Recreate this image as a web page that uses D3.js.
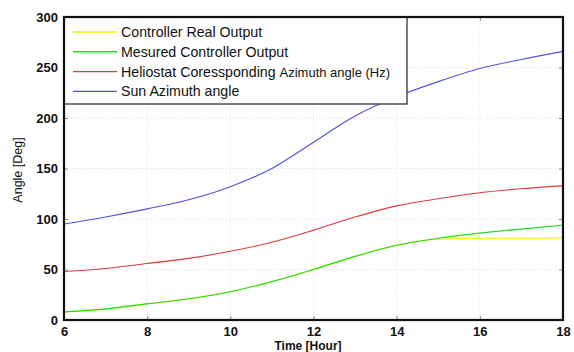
<!DOCTYPE html>
<html><head><meta charset="utf-8">
<script src="https://cdn.jsdelivr.net/npm/d3@7"></script>
<style>
html,body{margin:0;padding:0;background:#fff;}
svg{display:block;font-family:"Liberation Sans",Arial,sans-serif;}
</style></head>
<body><svg id="c" width="574" height="352"></svg>
<script>
const hours = [6,7,8,9,10,11,12,13,14,15,16,17,18];
const controllerReal = [8,11,16,21,28,38,50,63,74,80,81,81,81.5];
const measuredOutput = [8,11,16,21,28,38,50,63,74,81,86,90,94];
const heliostatAz = [48,51,56,61,68,77,89,102,113,120,126,130,133];
const sunAz = [95,102,110,119,132,150,176,202,221,236,249,258,266];
const xTicks = [6,8,10,12,14,16,18];
const yTicks = [0,50,100,150,200,250,300];
const seriesNames = [["Controller Real Output",""],["Mesured Controller Output",""],["Heliostat Coressponding ","Azimuth angle (Hz)"],["Sun Azimuth angle",""]];
const seriesColors = ["#f2f200","#22dd22","#e03a3a","#5252dc"];
const seriesData = [controllerReal, measuredOutput, heliostatAz, sunAz];

const svg = d3.select("#c");
const L=64,R=563,T=17,B=320;
const x = d3.scaleLinear().domain([6,18]).range([L,R]);
const y = d3.scaleLinear().domain([0,300]).range([B,T]);

// grid
const g = svg.append("g");
g.selectAll(".gx").data(xTicks.slice(1,-1)).enter().append("line")
 .attr("x1",d=>x(d)).attr("x2",d=>x(d)).attr("y1",T).attr("y2",B)
 .attr("stroke","#d8d8d8").attr("stroke-width",0.8).attr("stroke-dasharray","1,2");
g.selectAll(".gy").data(yTicks.slice(1,-1)).enter().append("line")
 .attr("y1",d=>y(d)).attr("y2",d=>y(d)).attr("x1",L).attr("x2",R)
 .attr("stroke","#d8d8d8").attr("stroke-width",0.8).attr("stroke-dasharray","1,2");

// lines
const line = d3.line().x((d,i)=>x(hours[i])).y(d=>y(d)).curve(d3.curveMonotoneX);
seriesData.forEach((s,i)=>{
  svg.append("path").datum(s).attr("d",line).attr("fill","none")
   .attr("stroke",seriesColors[i]).attr("stroke-width",1.1);
});

// axes
const xa = svg.append("g").attr("transform",`translate(0,${B})`)
 .call(d3.axisBottom(x).tickValues(xTicks).tickSize(-4).tickPadding(7).tickFormat(d3.format("d")));
const ya = svg.append("g").attr("transform",`translate(${L},0)`)
 .call(d3.axisLeft(y).tickValues(yTicks).tickSize(-4).tickPadding(6).tickFormat(d3.format("d")));
const xa2 = svg.append("g").attr("transform",`translate(0,${T})`)
 .call(d3.axisTop(x).tickValues(xTicks).tickSize(-4).tickFormat(""));
const ya2 = svg.append("g").attr("transform",`translate(${R},0)`)
 .call(d3.axisRight(y).tickValues(yTicks).tickSize(-4).tickFormat(""));
[xa,ya,xa2,ya2].forEach(a=>{
  a.select(".domain").remove();
  a.selectAll(".tick line").attr("stroke","#888");
  a.selectAll("text").attr("font-size",13).attr("fill","#111")
   .attr("font-family","'Liberation Sans',Arial,sans-serif").attr("font-weight","bold");
});

// axis titles
svg.append("text").attr("x",308).attr("y",350).attr("text-anchor","middle")
 .attr("font-size",12).attr("font-weight","bold").attr("fill","#111").text("Time [Hour]");
svg.append("text").attr("transform","translate(22,170) rotate(-90)").attr("text-anchor","middle")
 .attr("font-size",12.5).attr("fill","#111").text("Angle [Deg]");

// legend
const lg = svg.append("g");
lg.append("rect").attr("x",L).attr("y",T).attr("width",407-L).attr("height",104-T)
 .attr("fill","#fff").attr("stroke","#444").attr("stroke-width",1.4);
seriesNames.forEach((n,i)=>{
  const yy = 32 + i*19.8;
  lg.append("line").attr("x1",73).attr("x2",117).attr("y1",yy).attr("y2",yy)
   .attr("stroke",seriesColors[i]).attr("stroke-width",1.4);
  const t = lg.append("text").attr("x",121).attr("y",yy+5).attr("fill","#111");
  t.append("tspan").attr("font-size",14.2).text(n[0]);
  if (n[1]) t.append("tspan").attr("font-size",13).text(n[1]);
});
svg.append("rect").attr("x",L).attr("y",T).attr("width",R-L).attr("height",B-T)
 .attr("fill","none").attr("stroke","#111").attr("stroke-width",2.2);
</script></body></html>
